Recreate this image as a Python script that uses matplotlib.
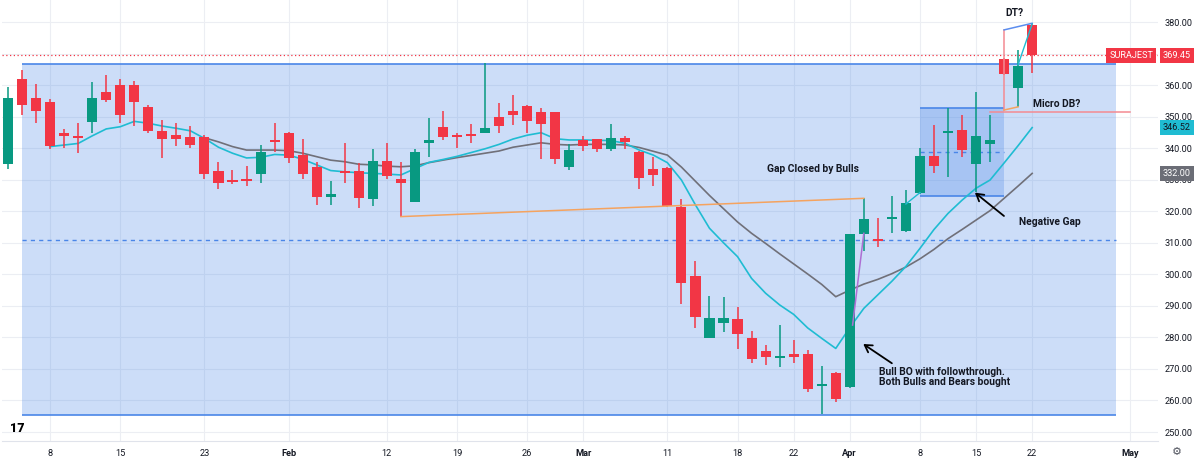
import numpy as np
import matplotlib
matplotlib.use('Agg')
import matplotlib.pyplot as plt

plt.rcParams['font.family'] = ['Roboto', 'DejaVu Sans']

# daily bars SURAJEST, 3 Jan - 22 Apr 2024 (bar index = position on x axis)
dates = ['Jan 3', 'Jan 4', 'Jan 5', 'Jan 8', 'Jan 9', 'Jan 10', 'Jan 11', 'Jan 12', 'Jan 15', 'Jan 16',
         'Jan 17', 'Jan 18', 'Jan 19', 'Jan 20', 'Jan 23', 'Jan 24', 'Jan 25', 'Jan 29', 'Jan 30', 'Jan 31',
         'Feb 1', 'Feb 2', 'Feb 5', 'Feb 6', 'Feb 7', 'Feb 8', 'Feb 9', 'Feb 12', 'Feb 13', 'Feb 14',
         'Feb 15', 'Feb 16', 'Feb 19', 'Feb 20', 'Feb 21', 'Feb 22', 'Feb 23', 'Feb 26', 'Feb 27', 'Feb 28',
         'Feb 29', 'Mar 1', 'Mar 2', 'Mar 4', 'Mar 5', 'Mar 6', 'Mar 7', 'Mar 11', 'Mar 12', 'Mar 13',
         'Mar 14', 'Mar 15', 'Mar 18', 'Mar 19', 'Mar 20', 'Mar 21', 'Mar 22', 'Mar 26', 'Mar 27', 'Mar 28',
         'Apr 1', 'Apr 2', 'Apr 3', 'Apr 4', 'Apr 5', 'Apr 8', 'Apr 9', 'Apr 10', 'Apr 12', 'Apr 15',
         'Apr 16', 'Apr 18', 'Apr 19', 'Apr 22']
future = ['Apr 23', 'Apr 24', 'Apr 25', 'Apr 26', 'Apr 29', 'Apr 30', 'May 1']

opens = [334.9, 361.8, 356.0, 354.7, 344.7, 343.9, 348.2, 357.9, 359.9, 359.9,
         353.1, 345.4, 344.1, 343.6, 343.4, 332.7, 329.9, 330.2, 331.8, 342.5,
         344.9, 337.8, 334.1, 324.5, 332.7, 332.7, 323.8, 335.9, 330.2, 322.9,
         341.7, 346.7, 344.2, 344.5, 344.7, 349.8, 351.8, 353.5, 351.4, 351.4,
         333.9, 342.6, 342.8, 339.7, 343.3, 338.7, 333.4, 333.8, 321.2, 299.6,
         279.9, 284.7, 285.7, 279.7, 275.7, 273.8, 274.7, 274.6, 264.7, 268.8,
         264.3, 312.8, 310.9, 317.5, 313.8, 325.7, 337.6, 344.7, 345.8, 334.9,
         341.3, 368.2, 359.2, 379.0]
highs = [359.3, 364.8, 360.3, 355.5, 346.0, 347.9, 360.9, 363.2, 361.8, 361.3,
         353.6, 348.9, 348.1, 347.1, 344.1, 335.7, 333.1, 334.4, 341.0, 348.1,
         345.2, 342.8, 335.7, 329.6, 341.5, 335.2, 339.6, 341.7, 335.7, 339.7,
         349.5, 351.8, 344.7, 347.7, 366.9, 354.4, 356.9, 353.6, 352.6, 351.6,
         341.2, 343.9, 343.0, 347.7, 343.9, 339.0, 337.1, 334.0, 323.8, 304.2,
         293.1, 292.9, 289.5, 282.1, 277.6, 283.9, 279.2, 276.0, 270.9, 268.9,
         312.9, 324.1, 317.7, 324.8, 326.7, 340.0, 347.3, 352.6, 350.5, 357.9,
         350.5, 368.6, 371.1, 379.6]
lows = [333.3, 350.5, 348.1, 339.6, 340.1, 338.4, 344.9, 354.7, 348.1, 347.0,
        344.9, 337.0, 340.7, 340.0, 330.1, 327.0, 328.6, 328.0, 329.0, 338.9,
        335.2, 330.1, 322.0, 322.0, 329.0, 320.9, 321.7, 330.1, 318.1, 322.9,
        337.1, 342.6, 340.0, 341.5, 344.7, 344.9, 347.3, 344.9, 336.5, 335.0,
        333.1, 339.2, 338.9, 339.0, 339.7, 327.0, 328.0, 321.4, 290.6, 282.9,
        279.9, 281.8, 276.2, 271.8, 271.3, 270.7, 272.0, 262.8, 255.6, 259.6,
        264.1, 307.4, 308.8, 313.0, 313.5, 325.5, 332.2, 331.0, 337.3, 326.2,
        335.7, 363.2, 353.1, 363.9]
closes = [356.0, 353.7, 351.9, 340.8, 343.9, 343.3, 355.8, 355.3, 350.4, 354.7,
          345.4, 343.0, 342.8, 341.1, 331.8, 329.0, 329.2, 329.6, 338.7, 342.2,
          336.8, 331.7, 324.6, 325.4, 332.0, 324.3, 335.9, 331.2, 329.0, 338.7,
          342.6, 343.6, 343.6, 343.9, 346.3, 347.0, 350.5, 348.7, 347.7, 336.6,
          339.4, 340.7, 339.7, 343.3, 341.9, 330.4, 331.6, 321.7, 297.1, 286.4,
          286.0, 286.0, 281.0, 273.2, 273.9, 274.0, 273.7, 263.6, 265.0, 260.4,
          312.7, 317.4, 310.6, 318.3, 322.5, 337.5, 334.3, 345.5, 339.4, 343.9,
          342.6, 363.4, 366.0, 369.45]

# moving averages (nan = not drawn)
ma_fast = [np.nan, np.nan, np.nan, 340.5, 341.0, 341.5, 343.9, 346.1, 346.8, 348.5,
           347.9, 347.0, 346.3, 345.5, 343.1, 340.3, 338.4, 336.9, 337.1, 338.0,
           337.8, 336.5, 334.7, 332.9, 332.5, 332.2, 332.0, 331.8, 331.5, 333.5,
           335.5, 336.4, 337.4, 338.6, 339.8, 341.2, 342.9, 344.1, 344.9, 343.0,
           342.6, 342.6, 342.5, 342.4, 341.5, 339.4, 337.8, 335.4, 329.9, 322.0,
           314.6, 310.0, 305.6, 298.7, 294.0, 290.3, 287.3, 283.0, 279.7, 276.5,
           283.1, 289.2, 293.5, 297.8, 302.5, 308.2, 314.2, 319.3, 323.5, 327.3,
           329.9, 335.3, 340.8, 346.52]
ma_slow = [np.nan] * 14 + [
           343.3, 342.0, 340.5, 339.4, 339.4, 339.4,
           339.2, 338.4, 337.3, 336.2, 335.7, 334.9, 334.7, 334.3, 334.1, 334.4,
           335.4, 336.2, 337.0, 337.7, 338.4, 339.1, 340.3, 341.0, 341.7, 341.2,
           341.0, 341.2, 341.2, 341.2, 341.0, 340.2, 339.0, 337.8, 334.0, 329.5,
           325.0, 320.8, 316.6, 313.0, 309.8, 306.5, 303.3, 300.1, 296.8, 292.9,
           295.0, 296.9, 298.4, 300.2, 302.3, 304.9, 307.9, 311.3, 314.2, 317.2,
           320.2, 324.1, 328.0, 332.0]

tick_dates = ['Jan 8', 'Jan 15', 'Jan 23', 'Feb 1', 'Feb 12', 'Feb 19', 'Feb 26', 'Mar 1',
              'Mar 11', 'Mar 18', 'Mar 22', 'Apr 1', 'Apr 8', 'Apr 15', 'Apr 22', 'May 1']
tick_labels = ['8', '15', '23', 'Feb', '12', '19', '26', 'Mar', '11', '18', '22', 'Apr', '8', '15', '22', 'May']
price_ticks = list(range(250, 381, 10))

last_price = 369.45
range_top, range_bot = 366.6, 255.4
box_top, box_bot = 352.6, 324.8

UP = '#089981'
DOWN = '#f23645'
BLUE = '#4a86e8'
TXT = '#131722'

all_dates = dates + future
pos = {d: i for i, d in enumerate(all_dates)}

fig = plt.figure(figsize=(12, 4.65), dpi=100)
ax = fig.add_axes([2 / 1200, 24 / 465, 1156 / 1200, 441 / 465])

# grid
for d in tick_dates:
    ax.axvline(pos[d], color='#eceef3', lw=0.8, zorder=0)
for p in price_ticks:
    ax.axhline(p, color='#eceef3', lw=0.8, zorder=0)

# big range box
ax.fill_between([pos['Jan 4'], 78.95], range_bot, range_top, color=BLUE, alpha=0.28, lw=0, zorder=0.5)
ax.hlines([range_top, range_bot], pos['Jan 4'], 78.95, color=BLUE, lw=1.2, zorder=1)
ax.hlines((range_top + range_bot) / 2, pos['Jan 4'], 78.95, color=BLUE, lw=1.0,
          linestyles=(0, (3, 3)), zorder=1)
# small box Apr 8 - Apr 18
ax.fill_between([pos['Apr 8'], pos['Apr 18']], box_bot, box_top, color=BLUE, alpha=0.28, lw=0, zorder=0.6)
ax.hlines([box_top, box_bot], pos['Apr 8'], pos['Apr 18'], color=BLUE, lw=1.2, zorder=1)
ax.hlines((box_top + box_bot) / 2, pos['Apr 8'], pos['Apr 18'], color=BLUE, lw=1.0,
          linestyles=(0, (3, 3)), zorder=1)

ax.axhline(last_price, color=DOWN, lw=0.9, ls=(0, (1, 2)), zorder=1)

# moving averages
x = np.arange(len(dates))
ax.plot(x, ma_slow, color='#707079', lw=1.2, zorder=2)
ax.plot(x, ma_fast, color='#1fbcd2', lw=1.2, zorder=2)

# candles
o = np.array(opens); c = np.array(closes)
col = np.where(c >= o, UP, DOWN)
ax.vlines(x, lows, highs, colors=col, lw=1.1, zorder=3)
h = np.maximum(np.abs(c - o), 0.6)
mid = (o + c) / 2
ax.bar(x, h, 0.72, bottom=mid - h / 2, color=col, lw=0, zorder=4)

# drawings
ax.plot([pos['Feb 13'], pos['Apr 2']], [318.3, 324.1], color='#f5a35f', lw=1.1, zorder=5)
ax.plot([60.2, pos['Apr 2']], [283.9, 313.0], color='#ad6fd3', lw=1.1, zorder=5)
ax.plot([pos['Apr 5'], pos['Apr 8']], [322.3, 325.9], color='#1fbcd2', lw=1.0, zorder=5)
ax.plot([pos['Apr 18'], pos['Apr 18']], [352.1, 377.5], color='#f48a92', lw=1.1, zorder=5)
ax.plot([pos['Apr 18'], pos['Apr 19']], [352.1, 353.1], color='#f5a35f', lw=1.1, zorder=5)
ax.plot([pos['Apr 18'], pos['Apr 22']], [377.5, 379.6], color='#5b8def', lw=1.1, zorder=5)
ax.plot([pos['Apr 19'], pos['Apr 22']], [366.5, 379.4], color='#1fbcd2', lw=1.0, zorder=5)
ax.plot([pos['Apr 16'], pos['May 1']], [351.5, 351.5], color='#f48a92', lw=1.1, zorder=5)

# annotations
fs = 6.6
afs = 7.4
ax.text(54.1, 333.4, 'Gap Closed by Bulls', fontsize=afs, fontweight='bold', color=TXT, va='center', zorder=6)
ax.text(72.06, 316.7, 'Negative Gap', fontsize=afs, fontweight='bold', color=TXT, va='center', zorder=6)
ax.text(73.06, 353.9, 'Micro DB?', fontsize=afs, fontweight='bold', color=TXT, va='center', zorder=6)
ax.text(71.06, 382.9, 'DT?', fontsize=afs, fontweight='bold', color=TXT, va='center', zorder=6)
ax.text(62.1, 267.3, 'Bull BO with followthrough.\nBoth Bulls and Bears bought', fontsize=afs,
        fontweight='bold', color=TXT, va='center', linespacing=1.0, zorder=6)
arr = dict(arrowstyle='->,head_length=0.5,head_width=0.3', color='black', lw=1.3, shrinkA=0, shrinkB=0)
ax.annotate('', xy=(60.96, 277.9), xytext=(63.0, 271.8), arrowprops=arr, zorder=6)
ax.annotate('', xy=(68.92, 325.9), xytext=(70.99, 318.5), arrowprops=arr, zorder=6)

# axes
ax.set_xlim(-0.43, 81.97)
ax.set_ylim(247.15, 386.98)
ax.set_xticks([pos[d] for d in tick_dates])
ax.set_xticklabels(tick_labels)
for lab, t in zip(ax.get_xticklabels(), tick_labels):
    if not t.isdigit():
        lab.set_fontweight('bold')
ax.yaxis.tick_right()
ax.set_yticks(price_ticks)
ax.set_yticklabels(['%.2f' % p for p in price_ticks])
ax.tick_params(axis='both', length=0, labelsize=fs, labelcolor=TXT)
ax.tick_params(axis='x', pad=6)
ax.tick_params(axis='y', pad=5)
for s in ['top', 'left', 'right']:
    ax.spines[s].set_visible(False)
ax.spines['bottom'].set_color('#e0e3eb')

# price scale labels
yt = ax.get_yaxis_transform()
def px(p):
    return (p - 2) / 1156
ax.text(px(1163), last_price, '369.45', transform=yt, fontsize=fs, color='white', va='center',
        bbox=dict(boxstyle='square,pad=0.35', fc=DOWN, ec='none'), clip_on=False, zorder=10)
ax.text(px(1153), last_price, 'SURAJEST', transform=yt, fontsize=fs, color='white', va='center', ha='right',
        bbox=dict(boxstyle='square,pad=0.35', fc=DOWN, ec='none'), clip_on=False, zorder=10)
ax.text(px(1163), ma_fast[-1], '%.2f' % ma_fast[-1], transform=yt, fontsize=fs, color=TXT, va='center',
        bbox=dict(boxstyle='square,pad=0.35', fc='#1fbcd2', ec='none'), clip_on=False, zorder=10)
ax.text(px(1163), ma_slow[-1], '%.2f' % ma_slow[-1], transform=yt, fontsize=fs, color='white', va='center',
        bbox=dict(boxstyle='square,pad=0.35', fc='#6b6d76', ec='none'), clip_on=False, zorder=10)

# logo and settings glyph
fig.text(10 / 1200, 1 - 428 / 465, '17', fontsize=9, fontweight='heavy', color='black', va='center')
fig.text(1177 / 1200, 1 - 452 / 465, '\u2699', fontsize=8, color='#50535e', va='center', ha='center',
         family=['DejaVu Sans'])

fig.savefig('out.png', dpi=100)
